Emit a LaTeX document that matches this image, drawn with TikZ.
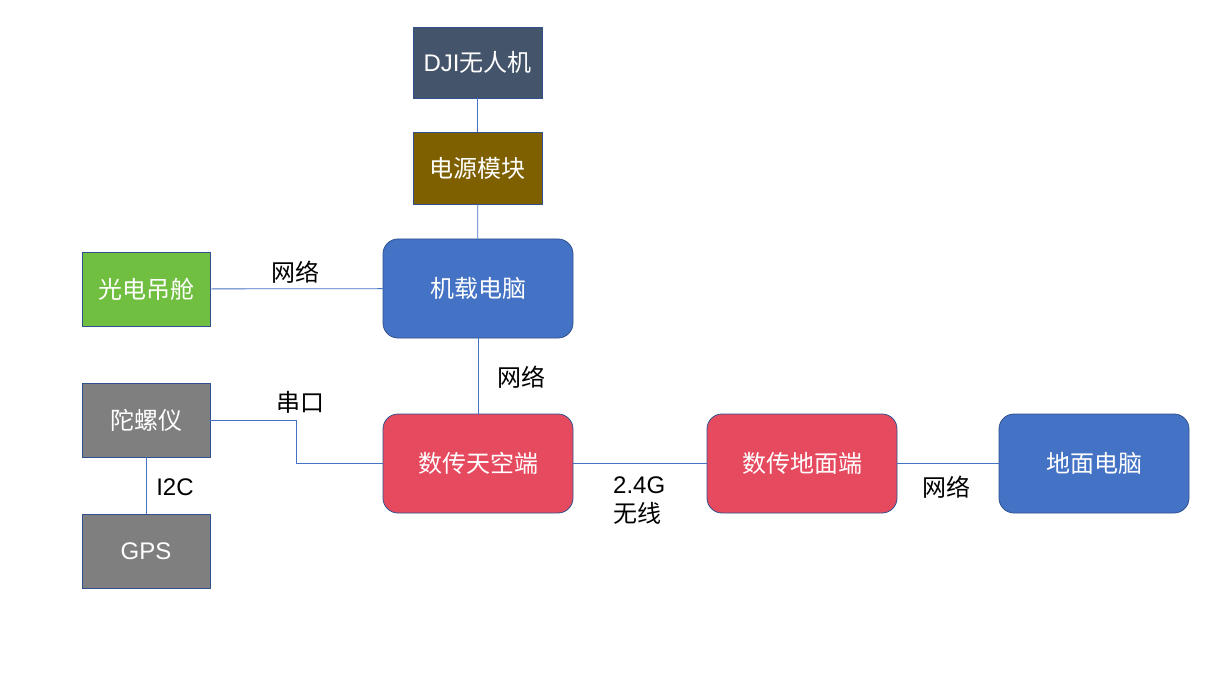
\documentclass[tikz,border=0pt]{standalone}
\usepackage{fontspec}
\setmainfont{Liberation Sans}
\newfontfamily\cjk{Noto Sans CJK SC}
\begin{document}
\begin{tikzpicture}[x=1pt,y=-1pt,
  box/.style={draw=bordc, line width=0.8pt, text=white, inner sep=0pt, font=\fontsize{24}{29}\selectfont},
  rbox/.style={box, rounded corners=15pt},
  link/.style={draw=linec, line width=0.8pt},
  lbl/.style={font=\fontsize{24}{29}\selectfont, text=black, inner sep=0pt, align=left}]
\definecolor{bordc}{HTML}{2F528F}
\definecolor{linec}{HTML}{4472C4}
\definecolor{slate}{HTML}{44546A}
\definecolor{olive}{HTML}{7F6000}
\definecolor{blueb}{HTML}{4472C4}
\definecolor{greenb}{HTML}{70BF41}
\definecolor{grayb}{HTML}{7F7F7F}
\definecolor{redb}{HTML}{E64A5E}
\useasboundingbox[fill=white] (0,0) rectangle (1211,679);
\node[box, fill=slate, minimum width=129pt, minimum height=71pt] (dji) at (477.5,62.5) {DJI{\cjk 无人机}};
\node[box, fill=olive, minimum width=129pt, minimum height=72pt] (pwr) at (477.5,168) {\cjk 电源模块};
\node[rbox, fill=blueb, minimum width=190pt, minimum height=99pt] (obc) at (478,288.5) {\cjk 机载电脑};
\node[box, fill=greenb, minimum width=128pt, minimum height=74pt] (pod) at (146,289) {\cjk 光电吊舱};
\node[box, fill=grayb, minimum width=128pt, minimum height=74pt] (gyro) at (146,420) {\cjk 陀螺仪};
\node[box, fill=grayb, minimum width=128pt, minimum height=74pt] (gps) at (146,551) {GPS};
\node[rbox, fill=redb, minimum width=190pt, minimum height=99pt] (air) at (478,463.5) {\cjk 数传天空端};
\node[rbox, fill=redb, minimum width=190pt, minimum height=99pt] (gnd) at (802,463.5) {\cjk 数传地面端};
\node[rbox, fill=blueb, minimum width=190pt, minimum height=99pt] (pc) at (1094,463.5) {\cjk 地面电脑};
\draw[link] (dji) -- (pwr);
\draw[link] (pwr) -- (obc);
\draw[link] (pod) -- (obc);
\draw[link] (obc) -- (air);
\draw[link] (gyro.east) -- (296,420) -- (296,463.5) -- (air.west);
\draw[link] (gyro) -- (gps);
\draw[link] (air) -- (gnd);
\draw[link] (gnd) -- (pc);
\node[lbl] (l1) at (295,272) {\cjk 网络};
\node[lbl] (l2) at (521,377) {\cjk 网络};
\node[lbl] (l3) at (300,402) {\cjk 串口};
\node[lbl] (l4) at (175,487) {I2C};
\node[lbl, anchor=west] (l5) at (613,501) {2.4G\\{\cjk 无线}};
\node[lbl] (l6) at (946,487) {\cjk 网络};
\end{tikzpicture}
\end{document}
